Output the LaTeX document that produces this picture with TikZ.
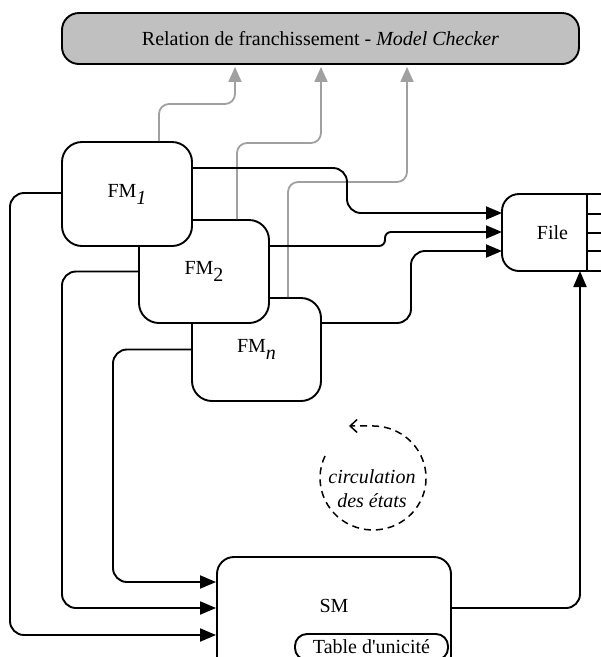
\documentclass[tikz,border=0pt]{standalone}
\usepackage{fontspec}
\setmainfont{Liberation Serif}
\usetikzlibrary{arrows.meta,calc}
\definecolor{mcgray}{RGB}{192,192,192}
\definecolor{lgray}{RGB}{160,160,160}
\begin{document}
\begin{tikzpicture}[x=1pt,y=-1pt,
  every node/.style={font=\fontsize{20}{24}\selectfont},
  fmbox/.style={draw, line width=1.9pt, fill=white, rounded corners=20pt,
    minimum width=130pt, minimum height=103pt, inner sep=0pt},
  conn/.style={line width=1.9pt, rounded corners=14pt,
    -{Triangle[length=16pt,width=13pt]}},
  gconn/.style={draw=lgray, line width=1.8pt, rounded corners=10pt,
    -{Triangle[length=15pt,width=13pt]}, shorten >=2pt},
  thin1/.style={line width=1.9pt},
]
\useasboundingbox (0,0) rectangle (601,657);

% top box
\node[draw, line width=1.9pt, fill=mcgray, rounded corners=17pt,
  minimum width=517pt, minimum height=51pt, inner sep=0pt]
  (mc) at (320.5,38.5) {Relation de franchissement - \textit{Model Checker}};

% FM boxes (back to front)
\node[fmbox, minimum width=129pt] (fmn) at (256.5,349.5) {FM\raisebox{-7pt}{\textit{n}}};
\node[fmbox] (fm2) at (204,271.5) {FM\raisebox{-7pt}{2}};
\node[fmbox, minimum height=104pt] (fm1) at (127,194) {FM\raisebox{-7pt}{\textit{1}}};

% File (queue)
\node[minimum width=85pt, minimum height=77pt, inner sep=0pt, outer sep=0pt]
  (file) at (544.5,232.5) {\hspace*{16pt}File};
\draw[thin1, rounded corners=17pt] (file.north east) -- (file.north west)
  -- (file.south west) -- (file.south east);
\draw[thin1] (file.north east) -- (file.south east);
\draw[thin1] (file.north east) -- ++(15,0);
\draw[thin1] (file.south east) -- ++(15,0);
\draw[thin1] ($(file.north east)+(0,20)$) -- ++(15,0);
\draw[thin1] ($(file.north east)+(0,39)$) -- ++(15,0);
\draw[thin1] ($(file.north east)+(0,57)$) -- ++(15,0);

% SM
\node[draw, line width=1.9pt, rounded corners=17pt, minimum width=234pt,
  minimum height=118pt, inner sep=0pt, text height=13pt, text depth=0pt]
  (sm) at (334,616) {\raisebox{10pt}{SM}};
\node[draw, line width=1.9pt, rounded corners=12pt, minimum width=153pt,
  minimum height=26pt, inner sep=0pt, fill=white]
  (tab) at (371.5,647) {Table d\textquotesingle unicité};

% gray connectors to model checker
\draw[gconn] ($(fm1.north)+(32,0)$) -- (159,104) -- (235,104) -- ($(mc.south)+(-85.5,0)$);
\draw[gconn] ($(fm2.north)+(33,0)$) -- (237,143) -- (321,143) -- ($(mc.south)+(0.5,0)$);
\draw[gconn] ($(fmn.north)+(31.5,0)$) -- (288,182) -- (407,182) -- ($(mc.south)+(86.5,0)$);

% FM -> File
\draw[conn] ($(fm1.east)+(0,-26)$) -- (347,168) -- (347,213) -- ($(file.west)+(0,-19.5)$);
\draw[conn, rounded corners=6pt] ($(fm2.east)+(0,-25.5)$) -- (385,246) -- (385,232) -- ($(file.west)+(0,-0.5)$);
\draw[conn] ($(fmn.east)+(0,-26.5)$) -- (411,323) -- (411,251) -- ($(file.west)+(0,18.5)$);

% FM -> SM
\draw[conn] ($(fm1.west)+(0,-1)$) -- (10,193) -- (10,635) -- ($(sm.west)+(0,19)$);
\draw[conn] (fm2.west) -- (62,271.5) -- (62,608) -- ($(sm.west)+(0,-8)$);
\draw[conn] (fmn.west) -- (113,349.5) -- (113,582) -- ($(sm.west)+(0,-34)$);

% SM -> File
\draw[conn] ($(sm.east)+(0,-8)$) -- (580,608) -- ($(file.south)+(35.5,0)$);

% circulation
\node[font=\fontsize{20}{24}\selectfont\itshape, align=center, inner sep=0pt]
  (circ) at (372,489) {circulation\\des états};
\draw[line width=1.5pt, dash pattern=on 7pt off 5pt,
  -{Straight Barb[length=7pt,width=13pt]}]
  (325,456) arc[start angle=205, end angle=-90, x radius=53, y radius=52] -- ++(-24,0);
\end{tikzpicture}
\end{document}
